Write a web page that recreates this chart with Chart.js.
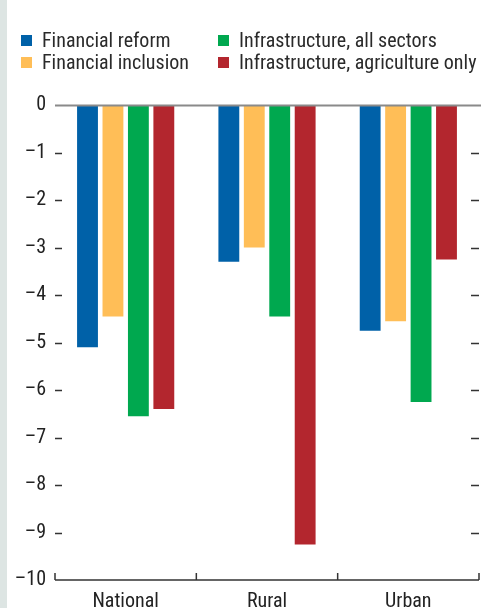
<!DOCTYPE html>
<html>
<head>
<meta charset="utf-8">
<script src="https://cdn.jsdelivr.net/npm/chart.js@4/dist/chart.umd.min.js"></script>
<style>
  html, body { margin: 0; padding: 0; background: #fff; }
  body { width: 482px; height: 608px; position: relative; overflow: hidden; }
  #strip { position: absolute; left: 0; top: 0; width: 7px; height: 608px; background: #dde5e3; }
  #legend { position: absolute; left: 21px; top: 30px; display: grid; grid-template-columns: 197px auto;
    row-gap: 2px; font-family: 'Liberation Sans Narrow', 'Roboto Condensed', 'DejaVu Sans Condensed', sans-serif;
    font-size: 20px; color: #2a2a2a; line-height: 20px; }
  .item { display: flex; align-items: center; white-space: nowrap; }
  .box { width: 11px; height: 11px; margin-right: 10px; }
  #c { position: absolute; left: 0; top: 0; }
</style>
</head>
<body>
<div id="strip"></div>
<canvas id="c" width="482" height="608"></canvas>
<div id="legend"></div>
<script>
const categories = ['National', 'Rural', 'Urban'];
const seriesNames = ['Financial reform', 'Financial inclusion', 'Infrastructure, all sectors', 'Infrastructure, agriculture only'];
const seriesColors = ['#0061a8', '#ffbe57', '#00a84f', '#b3262e'];
const financialReform = [-5.1, -3.3, -4.75];
const financialInclusion = [-4.45, -3.0, -4.55];
const infraAllSectors = [-6.55, -4.45, -6.25];
const infraAgriculture = [-6.4, -9.25, -3.25];
const yMin = -10, yMax = 0;

const font = "'Liberation Sans Narrow', 'Roboto Condensed', 'DejaVu Sans Condensed', sans-serif";
const seriesValues = [financialReform, financialInclusion, infraAllSectors, infraAgriculture];

// legend, column-major like the original
const legendOrder = [0, 2, 1, 3];
const legend = document.getElementById('legend');
legendOrder.forEach(i => {
  const el = document.createElement('div');
  el.className = 'item';
  el.innerHTML = '<span class="box" style="background:' + seriesColors[i] + '"></span>' + seriesNames[i];
  legend.appendChild(el);
});

// tick marks drawn inside the plot, zero line on top of the bars
const axisMarks = {
  id: 'axisMarks',
  afterDatasetsDraw(chart) {
    const { ctx, chartArea: { left, right, bottom }, scales: { x, y } } = chart;
    ctx.save();
    ctx.strokeStyle = '#333';
    ctx.lineWidth = 1.5;
    y.ticks.forEach(t => {
      if (t.value === yMax || t.value === yMin) return;
      const py = Math.round(y.getPixelForValue(t.value)) + 0.5;
      ctx.beginPath();
      ctx.moveTo(left, py); ctx.lineTo(left + 7, py);
      ctx.moveTo(right - 8, py); ctx.lineTo(right, py);
      ctx.stroke();
    });
    // bottom axis with category boundaries
    ctx.beginPath();
    ctx.moveTo(left, bottom); ctx.lineTo(right, bottom);
    for (let i = 0; i <= categories.length; i++) {
      const bx = x.getPixelForValue(i - 0.5);
      ctx.moveTo(bx, bottom); ctx.lineTo(bx, bottom - 7);
    }
    ctx.stroke();
    // zero line
    const p0 = Math.round(y.getPixelForValue(0)) + 0.5;
    ctx.strokeStyle = '#8a8a8a';
    ctx.lineWidth = 2;
    ctx.beginPath();
    ctx.moveTo(left, p0); ctx.lineTo(right + 2, p0);
    ctx.stroke();
    ctx.restore();
  }
};

new Chart(document.getElementById('c'), {
  type: 'bar',
  data: {
    labels: categories,
    datasets: seriesNames.map((name, i) => ({
      label: name,
      data: seriesValues[i],
      backgroundColor: seriesColors[i],
      borderWidth: 0,
      categoryPercentage: 0.72,
      barPercentage: 0.82
    }))
  },
  options: {
    responsive: false,
    animation: false,
    layout: { padding: { top: 105, right: 3, left: 0, bottom: 0 } },
    plugins: { legend: { display: false }, tooltip: { enabled: false } },
    scales: {
      x: {
        grid: { display: false, drawTicks: false },
        border: { display: false },
        ticks: { color: '#222', font: { family: font, size: 20 }, padding: 10 },
        afterFit: s => { s.height = 28; }
      },
      y: {
        min: yMin,
        max: yMax,
        grid: { display: false, drawTicks: false },
        border: { display: false },
        ticks: {
          stepSize: 1,
          color: '#222',
          padding: 9,
          font: { family: font, size: 20 },
          callback: v => String(v).replace('-', '\u2013')
        },
        afterFit: s => { s.width = 55; }
      }
    }
  },
  plugins: [axisMarks]
});
</script>
</body>
</html>
